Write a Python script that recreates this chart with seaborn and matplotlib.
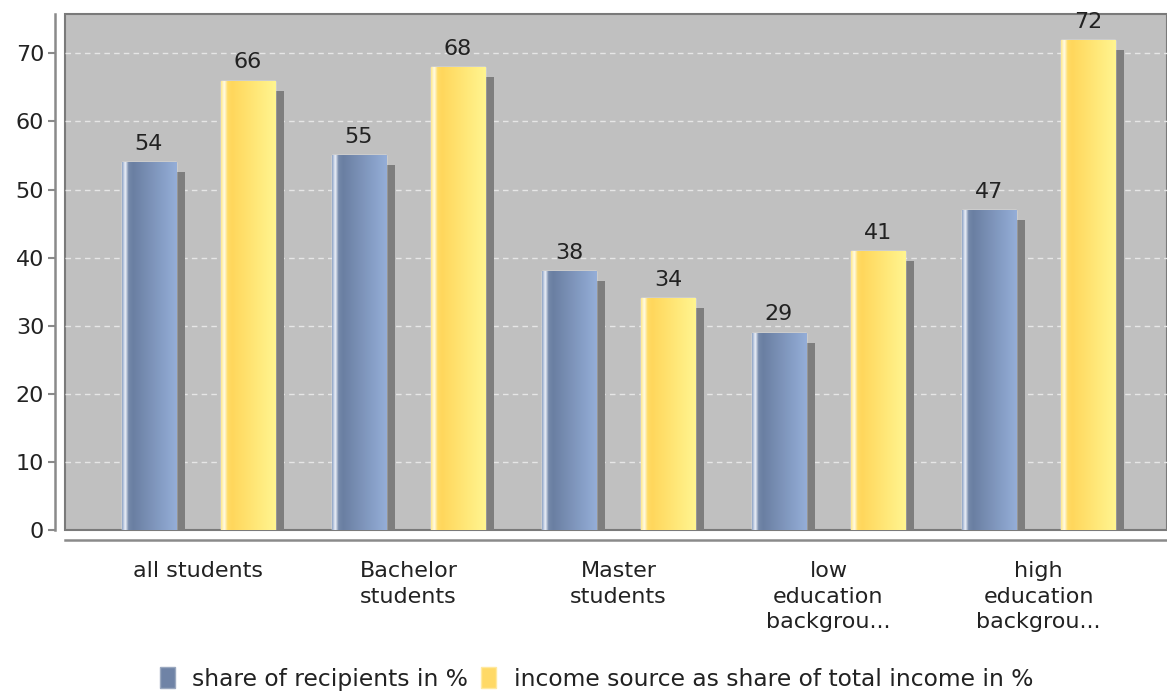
import matplotlib
matplotlib.use("Agg")
import matplotlib.pyplot as plt
import matplotlib.patheffects as pe
from matplotlib.colors import LinearSegmentedColormap
from matplotlib.patches import Patch
import numpy as np
import pandas as pd
import seaborn as sns

GROUPS = ["all students", "Bachelor\nstudents", "Master\nstudents",
          "low\neducation\nbackgrou...", "high\neducation\nbackgrou..."]
SERIES = ["share of recipients in %", "income source as share of total income in %"]
RECIPIENTS = [54, 55, 38, 29, 47]
INCOME_SHARE = [66, 68, 34, 41, 72]

COLORS = {SERIES[0]: "#7a90b4", SERIES[1]: "#ffe070"}
GRADIENTS = [
    LinearSegmentedColormap.from_list("blue", [(0, "#8da3c6"), (0.06, "#eef2fa"), (0.12, "#7488aa"),
                                               (0.2, "#6a7fa2"), (1, "#95aed8")]),
    LinearSegmentedColormap.from_list("yellow", [(0, "#ffe98c"), (0.06, "#fffbe8"), (0.12, "#ffdc66"),
                                                 (0.2, "#ffd75c"), (1, "#fff590")]),
]

rows = []
for g, a, b in zip(GROUPS, RECIPIENTS, INCOME_SHARE):
    rows.append([g, SERIES[0], a])
    rows.append([g, SERIES[1], b])
df = pd.DataFrame(rows, columns=["group", "series", "value"])

sns.set_style("white")
plt.rcParams["font.family"] = ["DejaVu Sans"]
FS = 16

fig = plt.figure(figsize=(11.67, 6.91), dpi=100)
ax = fig.add_axes([0.0557, 0.233, 0.944, 0.747])
ax.set_facecolor("#c0c0c0")

sns.barplot(data=df, x="group", y="value", hue="series", palette=COLORS,
            width=0.944, gap=0.455, ax=ax, legend=False, saturation=1, zorder=3)

shadow = [pe.SimplePatchShadow(offset=(6.5, -7.2), shadow_rgbFace="#7e7e7e", alpha=1.0), pe.Normal()]
for container, cmap in zip(ax.containers, GRADIENTS):
    for bar in container:
        bar.set_path_effects(shadow)
        x0, w, h = bar.get_x(), bar.get_width(), bar.get_height()
        grad = np.linspace(0, 1, 256).reshape(1, -1)
        im = ax.imshow(grad, cmap=cmap, extent=[x0, x0 + w, 0, h], aspect="auto",
                       origin="lower", zorder=4, interpolation="bilinear")
        im.set_clip_path(bar)
        ax.text(x0 + w / 2, h + 1.2, f"{h:.0f}", ha="center", va="bottom",
                fontsize=FS, color="#222222", zorder=5)

ax.set_xlim(-0.635, 4.61)
ax.set_ylim(0, 75.8)
ax.set_yticks(range(0, 71, 10))
# dashed grid everywhere except at zero
ax.yaxis.remove_overlapping_locs = False
ax.set_yticks(range(10, 71, 10), minor=True)
ax.yaxis.grid(False, which="major")
ax.yaxis.grid(True, which="minor", color="#e6e6e6", linestyle=(0, (4, 3)), linewidth=1)
ax.set_axisbelow(True)
ax.set_xlabel("")
ax.set_ylabel("")

ax.patch.set_edgecolor("#7a7a7a")
ax.patch.set_linewidth(1.5)
for side in ["top", "right"]:
    ax.spines[side].set_visible(False)
for side in ["left", "bottom"]:
    ax.spines[side].set_visible(True)
    ax.spines[side].set_color("#8a8a8a")
    ax.spines[side].set_linewidth(1.8)
    ax.spines[side].set_position(("outward", 7))

ax.tick_params(axis="y", which="major", left=True, length=5, width=1.5, color="#8a8a8a",
               labelsize=FS, labelcolor="#222222", pad=3)
ax.tick_params(axis="y", which="minor", left=False, length=0, labelleft=False)
ax.tick_params(axis="x", bottom=False, labelsize=FS, labelcolor="#222222", pad=12)
for lbl in ax.get_xticklabels():
    lbl.set_linespacing(1.35)

handles = [Patch(facecolor="#6f83a6", edgecolor="#9aa8bf", label=SERIES[0]),
           Patch(facecolor="#ffd966", edgecolor="#ffe9a0", label=SERIES[1])]
fig.legend(handles=handles, loc="lower center", bbox_to_anchor=(0.511, -0.03), ncol=2,
           frameon=False, fontsize=16.8, handlelength=0.65, handleheight=1.0,
           handletextpad=0.75, columnspacing=0.55, labelcolor="#222222")

fig.savefig("out.png", dpi=100, facecolor="white")
